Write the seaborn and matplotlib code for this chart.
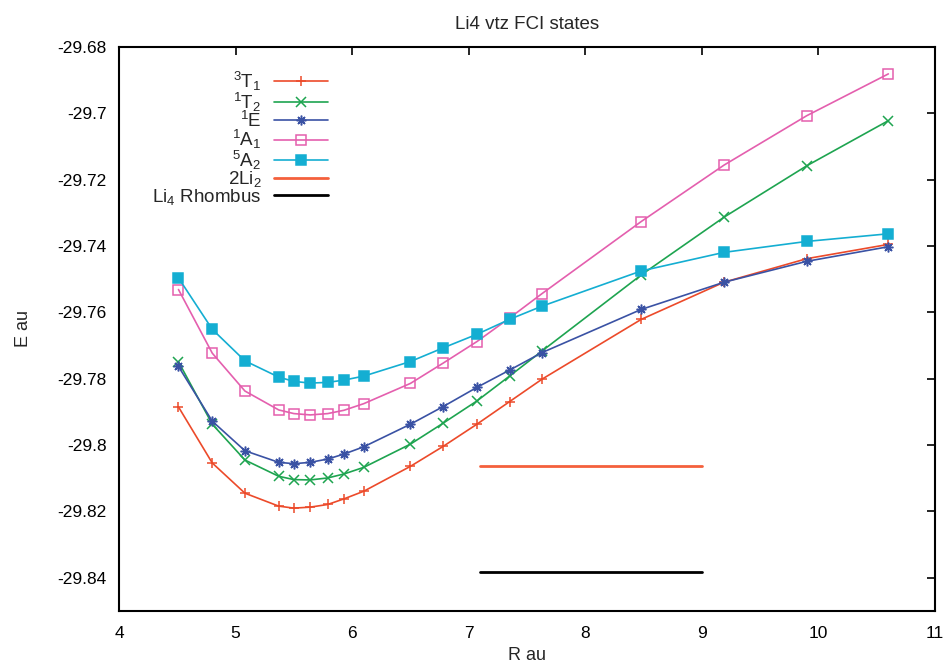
import matplotlib
matplotlib.use("Agg")
import matplotlib.pyplot as plt
import seaborn as sns
import pandas as pd
from matplotlib.ticker import FuncFormatter, MultipleLocator

sns.set_theme(style="white")
plt.rcParams['font.family'] = ['Liberation Sans', 'DejaVu Sans']
plt.rcParams['mathtext.fontset'] = 'custom'
plt.rcParams['mathtext.rm'] = 'Liberation Sans'
plt.rcParams['mathtext.it'] = 'Liberation Sans'

# Bond distance R (au)
R_short = [4.51, 4.8, 5.08, 5.37, 5.5, 5.64, 5.79, 5.93, 6.1, 6.5, 6.78, 7.07, 7.35, 7.63, 8.48, 9.19, 9.9, 10.6]

E_3T1 = [-29.7885, -29.8054, -29.8145, -29.8184, -29.8190, -29.8187, -29.8179, -29.8162, -29.8139,
         -29.8064, -29.8004, -29.7937, -29.7869, -29.7801, -29.7621, -29.7509, -29.7438, -29.7395]
E_1T2 = [-29.7749, -29.7937, -29.8045, -29.8094, -29.8104, -29.8105, -29.8099, -29.8087, -29.8067,
         -29.7997, -29.7934, -29.7867, -29.7792, -29.7716, -29.7487, -29.7313, -29.7158, -29.7022]
E_1E = [-29.7763, -29.7928, -29.8017, -29.8052, -29.8056, -29.8052, -29.8042, -29.8027, -29.8005,
        -29.7937, -29.7884, -29.7826, -29.7774, -29.7721, -29.7591, -29.7509, -29.7446, -29.7402]
E_1A1 = [-29.7531, -29.7723, -29.7837, -29.7894, -29.7905, -29.7909, -29.7905, -29.7895, -29.7875,
         -29.7814, -29.7753, -29.7688, -29.7617, -29.7543, -29.7326, -29.7156, -29.7007, -29.6881]
E_5A2 = [-29.7496, -29.7651, -29.7746, -29.7795, -29.7808, -29.7813, -29.7811, -29.7804, -29.7792,
         -29.7748, -29.7707, -29.7666, -29.7621, -29.7581, -29.7475, -29.7419, -29.7386, -29.7363]

R_ref = [7.1, 9.0]
E_2Li2 = [-29.8063, -29.8063]
E_rhombus = [-29.8382, -29.8382]

labels = [r'$^{3}$T$_{1}$', r'$^{1}$T$_{2}$', r'$^{1}$E', r'$^{1}$A$_{1}$', r'$^{5}$A$_{2}$',
          r'2Li$_{2}$', r'Li$_{4}$ Rhombus']
colors = ['#ec4a2a', '#1ea450', '#3a52a4', '#e45fae', '#14aed2', '#f4603c', '#000000']

fig = plt.figure(figsize=(9.47, 6.67), dpi=100)
ax = fig.add_axes([0.1257, 0.084, 0.8616, 0.8455])

series = [E_3T1, E_1T2, E_1E, E_1A1, E_5A2]
markers = ['+', 'x', (8, 2, 0), 's', 's']
for i, E in enumerate(series):
    df = pd.DataFrame({'R': R_short, 'E': E})
    kw = dict(marker=markers[i], markersize=7, markeredgewidth=1.1)
    if i == 3:
        kw.update(markerfacecolor='none', markeredgecolor=colors[i], markersize=7)
    elif i == 4:
        kw.update(markerfacecolor=colors[i], markeredgecolor=colors[i], markersize=6.5)
    else:
        kw.update(markeredgecolor=colors[i])
    sns.lineplot(data=df, x='R', y='E', ax=ax, color=colors[i], linewidth=1.2,
                 sort=False, label=labels[i], **kw)

sns.lineplot(x=R_ref, y=E_2Li2, ax=ax, color=colors[5], linewidth=2.0, label=labels[5])
sns.lineplot(x=R_ref, y=E_rhombus, ax=ax, color=colors[6], linewidth=2.0, label=labels[6])

ax.set_xlim(4, 11)
ax.set_ylim(-29.85, -29.68)
ax.xaxis.set_major_locator(MultipleLocator(1))
ax.yaxis.set_major_locator(MultipleLocator(0.02))
ax.yaxis.set_major_formatter(FuncFormatter(lambda v, p: f'{v:g}'))
ax.tick_params(direction='in', length=6, width=1.2, top=True, right=True,
               labelsize=12.5, colors='black', pad=9)
ax.tick_params(axis='x', pad=11)
for s in ax.spines.values():
    s.set_linewidth(1.5)
    s.set_color('black')

ax.set_xlabel('R au', fontsize=13, labelpad=4)
ax.set_ylabel('E au', fontsize=13, labelpad=18)
ax.set_title('Li4 vtz FCI states', fontsize=13.5, pad=13)

leg = ax.legend(loc='upper left', bbox_to_anchor=(0.029, 0.976), frameon=False,
                markerfirst=False, handlelength=2.85, handletextpad=0.7,
                labelspacing=-0.14, fontsize=13.5, numpoints=1, borderpad=0)

fig.savefig('out.png', dpi=100)
